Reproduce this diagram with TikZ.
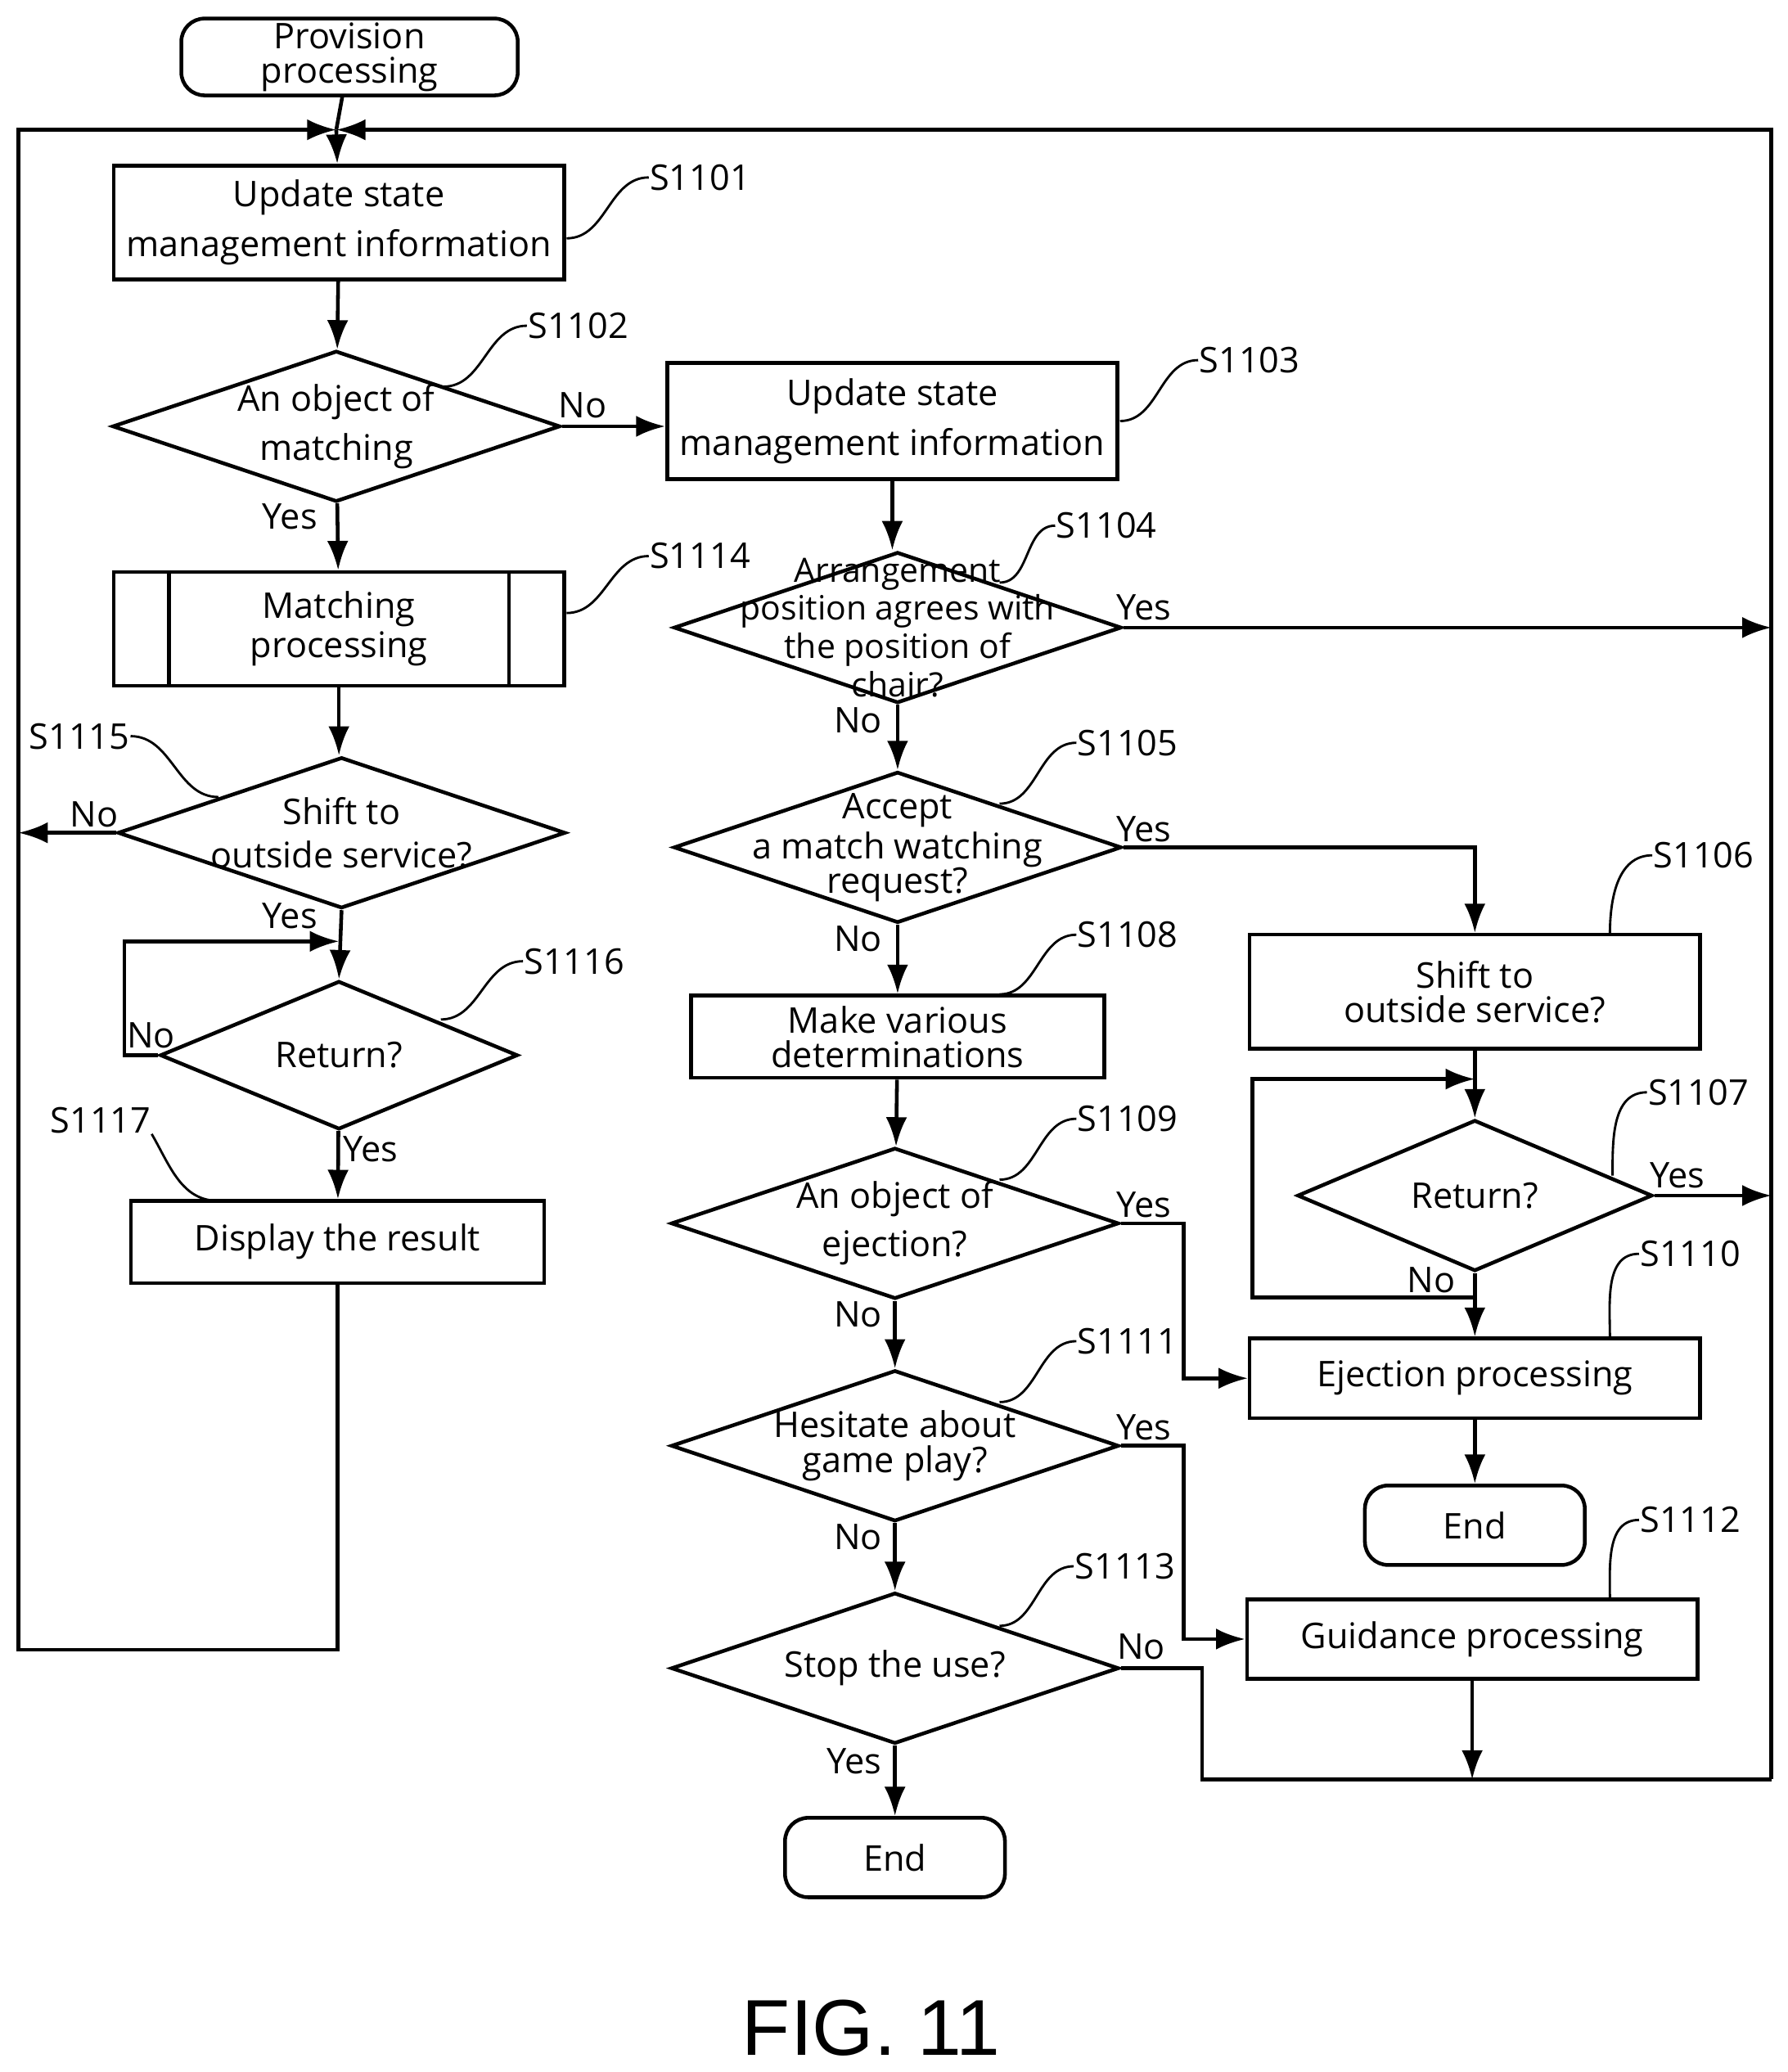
\documentclass[tikz,border=0pt]{standalone}
\usepackage{fontspec}
\setmainfont{Open Sans}
\setsansfont{Liberation Sans}
\usetikzlibrary{shapes.geometric,arrows.meta}
\tikzset{
  fc/.style={draw, line width=0.8pt, font=\fontsize{7.6}{7.4}\selectfont, align=center, inner sep=0pt},
  box/.style={fc, rectangle, minimum width=#1},
  term/.style={fc, rounded corners=5pt, minimum height=0.6cm, minimum width=#1},
  dec/.style={draw, line width=0.8pt, diamond, aspect=3, inner sep=0pt, minimum width=3.38cm, minimum height=1.14cm},
  dtext/.style={font=\fontsize{7.6}{7.4}\selectfont, align=center, inner sep=0pt},
  flow/.style={line width=0.8pt, -{Latex[length=2.2mm,width=1.6mm]}},
  ln/.style={line width=0.8pt},
  yn/.style={font=\fontsize{7.6}{8}\selectfont, inner sep=0pt},
  stepno/.style={font=\fontsize{7.6}{8}\selectfont, inner sep=0pt, anchor=west},
}
% leader line with step number
\newcommand\steplbl[4][0]{\draw[line width=0.5pt] (#2) to[out=#1,in=180] (#3) node[stepno] {#4};}
\begin{document}
\begin{tikzpicture}[x=0.01cm, y=-0.01cm]
\useasboundingbox (0,0) rectangle (1350,1565);

% ---- left column
\node[term=2.54cm, minimum height=0.58cm] (start) at (264,43) {Provision\\processing};
\node[box=3.4cm, minimum height=0.86cm] (b1101) at (256,168) {Update state\\[2pt]management information};
\node[dec] (d1102) at (254,322) {};
\node[dtext] (t1102) at (d1102.center) {An object of\\[2pt]matching};
\node[box=3.4cm, minimum height=0.86cm] (p1114) at (256,475) {Matching\\processing};
\draw[ln] ([xshift=0.43cm]p1114.north west) -- ([xshift=0.43cm]p1114.south west);
\draw[ln] ([xshift=-0.43cm]p1114.north east) -- ([xshift=-0.43cm]p1114.south east);
\node[dec] (d1115) at (258,629) {};
\node[dtext] (t1115) at (d1115.center) {Shift to\\[2pt]outside service?};
\node[dec, minimum width=2.7cm, minimum height=1.12cm] (d1116) at (256,797) {};
\node[dtext] (t1116) at (d1116.center) {Return?};
\node[box=3.12cm, minimum height=0.62cm] (b1117) at (255,938) {Display the result};

% ---- middle column
\node[box=3.4cm, minimum height=0.88cm] (b1103) at (674,318) {Update state\\[2pt]management information};
\node[dec] (d1104) at (678,474) {};
\node[dtext, font=\fontsize{7.2}{5.6}\selectfont] (t1104) at (d1104.center) {Arrangement\\position agrees with\\the position of\\chair?};
\node[dec] (d1105) at (678,640) {};
\node[dtext] (t1105) at (d1105.center) {Accept\\a match watching\\request?};
\node[box=3.12cm, minimum height=0.62cm] (b1108) at (678,783) {Make various\\determinations};
\node[dec] (d1109) at (676,924) {};
\node[dtext] (t1109) at (d1109.center) {An object of\\[2pt]ejection?};
\node[dec] (d1111) at (676,1092) {};
\node[dtext] (t1111) at (d1111.center) {Hesitate about\\game play?};
\node[dec] (d1113) at (676,1260) {};
\node[dtext] (t1113) at (d1113.center) {Stop the use?};
\node[term=1.66cm] (end1) at (676,1403) {End};

% ---- right column
\node[box=3.4cm, minimum height=0.86cm] (b1106) at (1114,749) {Shift to\\outside service?};
\node[dec, minimum width=2.68cm] (d1107) at (1114,903) {};
\node[dtext] (t1107) at (d1107.center) {Return?};
\node[box=3.4cm, minimum height=0.6cm] (b1110) at (1114,1041) {Ejection processing};
\node[term=1.66cm] (end2) at (1114,1152) {End};
\node[box=3.4cm, minimum height=0.6cm] (b1112) at (1112,1238) {Guidance processing};

% ---- loop frame
\coordinate (top) at (254,98);
\coordinate (lret) at (14,1246);
\coordinate (rret) at (1338,1344);
\draw[ln] (start) -- (top);
\draw[flow] (top) -- (b1101);
\draw[flow] (b1117.south) |- (lret) -- (14,98) -- (top);
\draw[flow] (rret) -- (1338,98) -- (top);

% ---- connectors
\draw[flow] (b1101) -- (d1102);
\draw[flow] (d1102.east) -- (b1103.west |- d1102.east);
\draw[flow] (d1102) -- (p1114);
\draw[flow] (p1114.south) -- (p1114.south |- d1115.north);
\draw[flow] (d1115.west) -- (14,629);
\draw[flow] (d1115.south) -- (d1116.north);
\draw[flow] (d1116.west) -- (94,797) -- (94,711) -- (256,711);
\draw[flow] (d1116) -- (b1117);
\draw[flow] (b1103.south) -- (b1103.south |- d1104.north);
\draw[flow] (d1104.east) -- (1338,474);
\draw[flow] (d1104) -- (d1105);
\draw[flow] (d1105.east) -| (b1106.north);
\draw[flow] (d1105) -- (b1108);
\draw[flow] (b1108) -- (d1109);
\draw[flow] (d1109.east) -- (894,924) |- (b1110.west);
\draw[flow] (d1109) -- (d1111);
\draw[flow] (d1111.east) -- (894,1092) |- (b1112.west);
\draw[flow] (d1111) -- (d1113);
\draw[flow] (d1113) -- (end1);
\draw[ln] (d1113.east) -- (908,1260) |- (rret);
\draw[flow] (b1112.south) -- (b1112.south |- rret);
\draw[flow] (b1106) -- (d1107);
\draw[flow] (d1107.east) -- (1338,903);
\draw[flow] (d1107.south) -- (1114,980) -- (946,980) -- (946,815) -- (1114,815);
\draw[flow] (d1107.south) -- (b1110.north);
\draw[flow] (b1110) -- (end2);

% ---- yes / no
\node[yn] (n1) at (440,306) {No};
\node[yn] (n2) at (219,390) {Yes};
\node[yn] (n3) at (864,459) {Yes};
\node[yn] (n4) at (648,544) {No};
\node[yn] (n5) at (864,626) {Yes};
\node[yn] (n6) at (648,709) {No};
\node[yn] (n7) at (71,615) {No};
\node[yn] (n8) at (219,692) {Yes};
\node[yn] (n9) at (114,782) {No};
\node[yn] (n10) at (280,868) {Yes};
\node[yn] (n11) at (864,910) {Yes};
\node[yn] (n12) at (648,993) {No};
\node[yn] (n13) at (864,1078) {Yes};
\node[yn] (n14) at (648,1161) {No};
\node[yn] (n15) at (862,1244) {No};
\node[yn] (n16) at (645,1330) {Yes};
\node[yn] (n17) at (1267,888) {Yes};
\node[yn] (n18) at (1081,967) {No};

% ---- step numbers
\steplbl{428,180}{490,134}{S1101}
\steplbl{335,292}{398,246}{S1102}
\steplbl{846,318}{905,272}{S1103}
\steplbl{755,440}{797,397}{S1104}
\steplbl{428,463}{490,420}{S1114}
\steplbl{755,607}{813,561}{S1105}
\steplbl{333,770}{395,726}{S1116}
\steplbl{755,751}{813,706}{S1108}
\steplbl{755,891}{813,845}{S1109}
\steplbl{755,1059}{813,1013}{S1111}
\steplbl{755,1228}{811,1183}{S1113}
\steplbl[90]{1216,706}{1248,646}{S1106}
\steplbl[90]{1218,888}{1244,825}{S1107}
\steplbl[90]{1216,1010}{1238,947}{S1110}
\steplbl[90]{1216,1208}{1238,1148}{S1112}
\node[stepno, anchor=center] (s1115) at (60,556) {S1115};
\draw[line width=0.5pt] (s1115.east) to[out=0,in=180] (165,602);
\node[stepno, anchor=center] (s1117) at (76,846) {S1117};
\draw[line width=0.5pt] (s1117.south east) to[out=-60,in=180] (165,907);

\node[font=\sffamily\fontsize{17}{17}\selectfont] (fig) at (658,1532) {FIG. 11};
\end{tikzpicture}
\end{document}
